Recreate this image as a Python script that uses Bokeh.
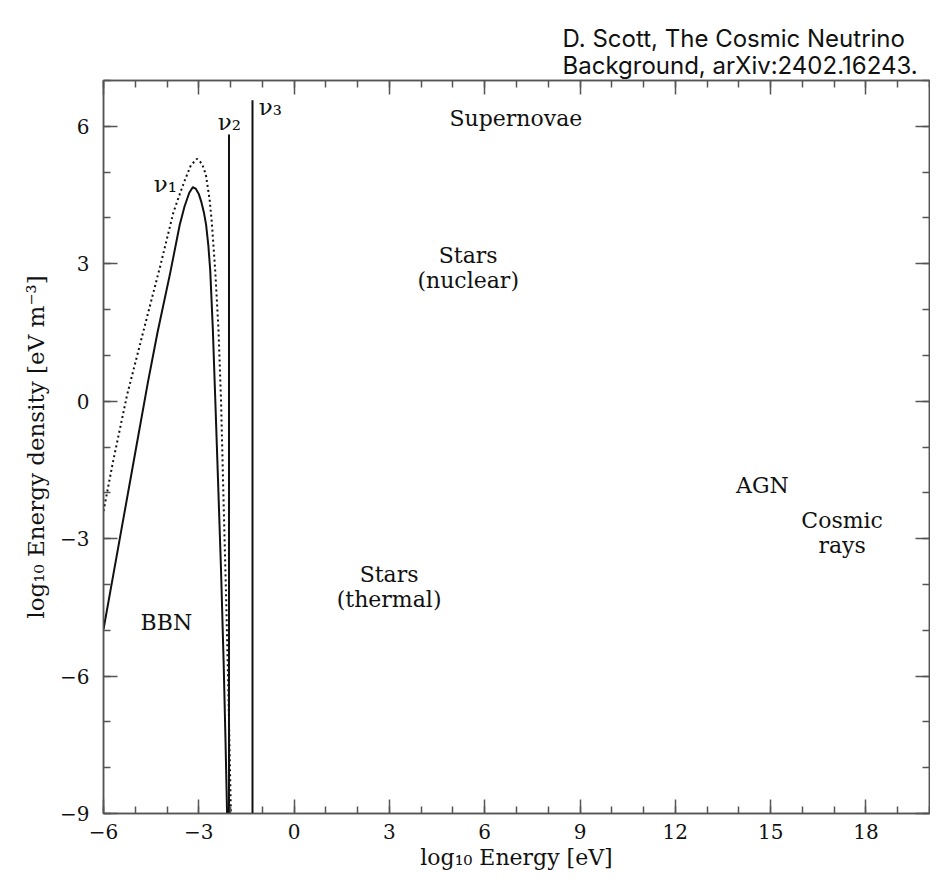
from bokeh.plotting import figure
from bokeh.models import Range1d, FixedTicker, LinearAxis
from bokeh.core.properties import value
from bokeh.embed import file_html
from bokeh.resources import INLINE

# ---- data ----
solid_x = [-6.0, -5.5, -5.0, -4.6, -4.3, -3.9, -3.6, -3.45, -3.3, -3.19, -3.1,
           -3.0, -2.92, -2.84, -2.77, -2.70, -2.64, -2.56, -2.47, -2.38, -2.30,
           -2.22, -2.16, -2.11]
solid_y = [-4.98, -3.05, -1.12, 0.42, 1.5, 2.8, 3.85, 4.25, 4.55, 4.67, 4.64,
           4.52, 4.35, 4.12, 3.85, 3.4, 2.85, 1.6, -0.2, -2.04, -3.7,
           -5.66, -7.4, -9.0]

dotted_x = [-6.0, -5.7, -5.26, -4.74, -4.21, -3.80, -3.60, -3.43, -3.25, -3.06,
            -2.92, -2.84, -2.77, -2.66, -2.59, -2.48, -2.38, -2.30, -2.22, -2.14,
            -2.07, -1.99]
dotted_y = [-2.4, -1.32, 0.13, 1.54, 2.96, 4.12, 4.52, 4.84, 5.15, 5.29,
            5.2, 5.08, 4.91, 4.4, 3.90, 2.81, 1.55, 0.0, -2.2, -4.3,
            -6.3, -9.0]

nu_line_x = [-2.05, -1.31]
nu_line_top = [5.82, 6.57]
nu_line_bottom = [-9.0, -9.0]

nu_labels = ["ν₁", "ν₂", "ν₃"]
nu_label_x = [-4.05, -2.04, -0.75]
nu_label_y = [4.73, 6.10, 6.43]

region_labels = ["Supernovae", "Stars\n(nuclear)", "Stars\n(thermal)", "AGN", "Cosmic\nrays", "BBN"]
region_x = [6.98, 5.48, 2.99, 14.74, 17.25, -4.02]
region_y = [6.17, 2.91, -4.05, -1.84, -2.87, -4.83]

x_major = [-6, -3, 0, 3, 6, 9, 12, 15, 18]
x_major_labels = ["−6", "−3", "0", "3", "6", "9", "12", "15", "18"]
x_minor = list(range(-6, 21))
y_major = [-9, -6, -3, 0, 3, 6]
y_major_labels = ["−9", "−6", "−3", "0", "3", "6"]
y_minor = list(range(-9, 8))

x_title = "log₁₀ Energy [eV]"
y_title = "log₁₀ Energy density [eV m⁻³]"
credit = "D. Scott, The Cosmic Neutrino\nBackground, arXiv:2402.16243."

# ---- figure ----
SERIF = "DejaVu Serif"
FRAME = "#555555"
INK = "#111111"

p = figure(width=930, height=877, x_range=Range1d(-6, 20), y_range=Range1d(-9, 7),
           output_backend="svg", toolbar_location=None,
           min_border_left=103, min_border_right=1, min_border_top=80, min_border_bottom=64)
p.grid.visible = False
p.outline_line_color = FRAME
p.outline_line_width = 1.5
p.background_fill_color = "white"
p.border_fill_color = "white"

p.title.text = credit
p.title.align = "left"
p.title.offset = 459
p.title.text_font = "Inter"
p.title.text_font_size = "24px"
p.title.text_font_style = "normal"
p.title.text_color = INK
p.title.text_line_height = 0.92
p.title.standoff = 1


def style_axis(ax, ticks, minor, labels, show_labels):
    ax.ticker = FixedTicker(ticks=ticks, minor_ticks=minor)
    ax.major_tick_in = 14
    ax.major_tick_out = 0
    ax.minor_tick_in = 7
    ax.minor_tick_out = 0
    ax.major_tick_line_color = FRAME
    ax.minor_tick_line_color = FRAME
    ax.major_tick_line_width = 1.5
    ax.minor_tick_line_width = 1.5
    ax.axis_line_color = FRAME
    ax.axis_line_width = 1.5
    if show_labels:
        ax.major_label_overrides = {t: l for t, l in zip(ticks, labels)}
        ax.major_label_text_font = SERIF
        ax.major_label_text_font_size = "20px"
        ax.major_label_text_color = INK
    else:
        ax.major_label_text_font_size = "0px"
        ax.major_label_text_color = None
        ax.major_label_standoff = 0


xa = p.xaxis[0]
style_axis(xa, x_major, x_minor, x_major_labels, True)
xa.major_label_standoff = 10
xa.axis_label = x_title
xa.axis_label_text_font = SERIF
xa.axis_label_text_font_size = "22px"
xa.axis_label_text_font_style = "normal"
xa.axis_label_text_color = INK
xa.axis_label_standoff = 3

ya = p.yaxis[0]
style_axis(ya, y_major, y_minor, y_major_labels, True)
ya.major_label_standoff = 14
ya.major_label_orientation = "horizontal"
ya.axis_label = y_title
ya.axis_label_text_font = SERIF
ya.axis_label_text_font_size = "23px"
ya.axis_label_text_font_style = "normal"
ya.axis_label_text_color = INK
ya.axis_label_standoff = 8

top = LinearAxis()
style_axis(top, x_major, x_minor, x_major_labels, False)
p.add_layout(top, "above")
right = LinearAxis()
style_axis(right, y_major, y_minor, y_major_labels, False)
p.add_layout(right, "right")

# ---- curves ----
p.line(dotted_x, dotted_y, line_color=INK, line_width=2, line_dash="2 3")
p.line(solid_x, solid_y, line_color=INK, line_width=2, line_join="round")
p.segment(x0=nu_line_x, y0=nu_line_bottom, x1=nu_line_x, y1=nu_line_top,
          line_color=INK, line_width=2)

# ---- labels ----
p.text(x=nu_label_x, y=nu_label_y, text=nu_labels, text_font=value(SERIF),
       text_font_size="23px", text_font_style="normal", text_align="center",
       text_baseline="middle", text_color=INK)
p.text(x=region_x, y=region_y, text=region_labels, text_font=value(SERIF),
       text_font_size="22px", text_align="center", text_baseline="middle",
       text_color=INK, text_line_height=1.0)

open("out.html", "w").write(file_html(p, INLINE))
